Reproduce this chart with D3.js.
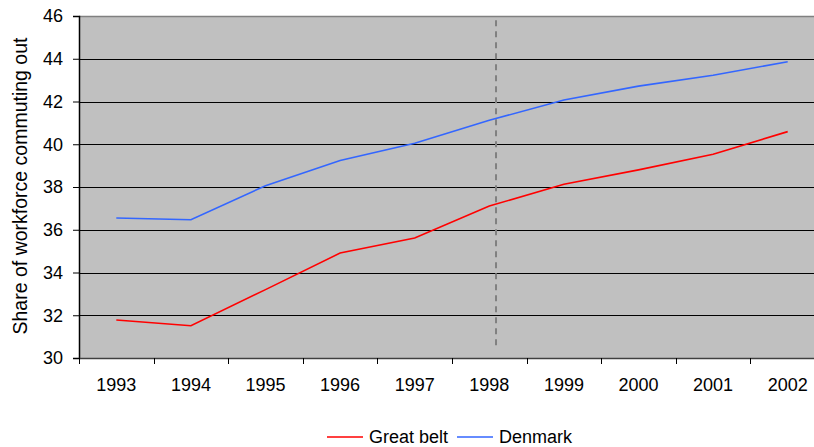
<!DOCTYPE html>
<html>
<head>
<meta charset="utf-8">
<script src="https://cdn.jsdelivr.net/npm/d3@7"></script>
<style>
  html, body { margin: 0; padding: 0; background: #fff; }
  svg { display: block; font-family: "Liberation Sans", Arial, sans-serif; }
</style>
</head>
<body>
<svg id="chart" width="814" height="447"></svg>
<script>
const years = ["1993","1994","1995","1996","1997","1998","1999","2000","2001","2002"];
const greatBelt = [31.78, 31.51, 33.2, 34.91, 35.61, 37.11, 38.13, 38.8, 39.53, 40.59];
const denmark = [36.55, 36.47, 38.06, 39.24, 40.05, 41.12, 42.07, 42.72, 43.23, 43.86];
const yTicks = [30, 32, 34, 36, 38, 40, 42, 44, 46];
const seriesNames = ["Great belt", "Denmark"];
const seriesColors = ["#FF0000", "#3366FF"];
const markerYear = "1998";
const yTitle = "Share of workforce commuting out";

(function () {
const svg = d3.select("#chart");
const pL = 79, pR = 825, pT = 16, pB = 358;

const x = d3.scaleBand().domain(years).range([pL, pR]).padding(0);
const y = d3.scaleLinear().domain([30, 46]).range([pB, pT]);

// plot background
svg.append("rect")
  .attr("x", pL).attr("y", pT)
  .attr("width", pR - pL).attr("height", pB - pT)
  .attr("fill", "#C0C0C0");

// gridlines
svg.append("g").selectAll("line")
  .data(yTicks.filter(d => d > 30 && d < 46))
  .join("line")
  .attr("x1", pL).attr("x2", pR)
  .attr("y1", d => Math.round(y(d)) + 0.5).attr("y2", d => Math.round(y(d)) + 0.5)
  .attr("stroke", "#000").attr("stroke-width", 1);

// top border
svg.append("line")
  .attr("x1", pL).attr("x2", pR)
  .attr("y1", Math.round(y(46)) + 0.5).attr("y2", Math.round(y(46)) + 0.5)
  .attr("stroke", "#808080").attr("stroke-width", 1.5);

// y axis
const yAxis = d3.axisLeft(y).tickValues(yTicks).tickSize(6).tickPadding(10).tickFormat(d3.format("d"));
const gy = svg.append("g").attr("transform", `translate(${pL},0)`).call(yAxis);
gy.select(".domain").attr("stroke", "#000").attr("stroke-width", 1.5);
gy.selectAll(".tick line").attr("stroke", "#000");
gy.selectAll(".tick text").attr("font-size", "18px").attr("fill", "#000")
  .attr("font-family", "Liberation Sans, Arial, sans-serif");

// x axis
const xAxis = d3.axisBottom(x).tickSize(0).tickPadding(20);
const gx = svg.append("g").attr("transform", `translate(0,${pB})`).call(xAxis);
gx.select(".domain").attr("stroke", "#404040").attr("stroke-width", 1.5);
gx.selectAll(".tick text").attr("font-size", "18px").attr("fill", "#000")
  .attr("font-family", "Liberation Sans, Arial, sans-serif");
// x tick marks at band boundaries
svg.append("g").selectAll("line")
  .data(years)
  .join("line")
  .attr("x1", d => Math.round(x(d)) + 0.5).attr("x2", d => Math.round(x(d)) + 0.5)
  .attr("y1", pB).attr("y2", pB + 6)
  .attr("stroke", "#000").attr("stroke-width", 1);

// dashed marker line
const mx = x(markerYear) + x.bandwidth() * 0.59;
svg.append("line")
  .attr("x1", mx).attr("x2", mx)
  .attr("y1", y(45.8)).attr("y2", y(30.6))
  .attr("stroke", "#808080").attr("stroke-width", 2)
  .attr("stroke-dasharray", "6,5");

// lines
const line = d3.line()
  .x((d, i) => x(years[i]) + x.bandwidth() / 2)
  .y(d => y(d));

[greatBelt, denmark].forEach((s, k) => {
  svg.append("path")
    .datum(s)
    .attr("d", line)
    .attr("fill", "none")
    .attr("stroke", seriesColors[k])
    .attr("stroke-width", 1.6);
});

// y title
svg.append("text")
  .attr("transform", `translate(27,186) rotate(-90)`)
  .attr("text-anchor", "middle")
  .attr("font-size", "19.5px")
  .attr("fill", "#000")
  .text(yTitle);

// legend
const legendX = [327, 457];
seriesNames.forEach((n, k) => {
  svg.append("line")
    .attr("x1", legendX[k]).attr("x2", legendX[k] + 36)
    .attr("y1", 437).attr("y2", 437)
    .attr("stroke", seriesColors[k]).attr("stroke-width", 1.6);
  svg.append("text")
    .attr("x", legendX[k] + 42).attr("y", 443)
    .attr("font-size", "18px").attr("fill", "#000")
    .text(n);
});
})();
</script>
</body>
</html>
